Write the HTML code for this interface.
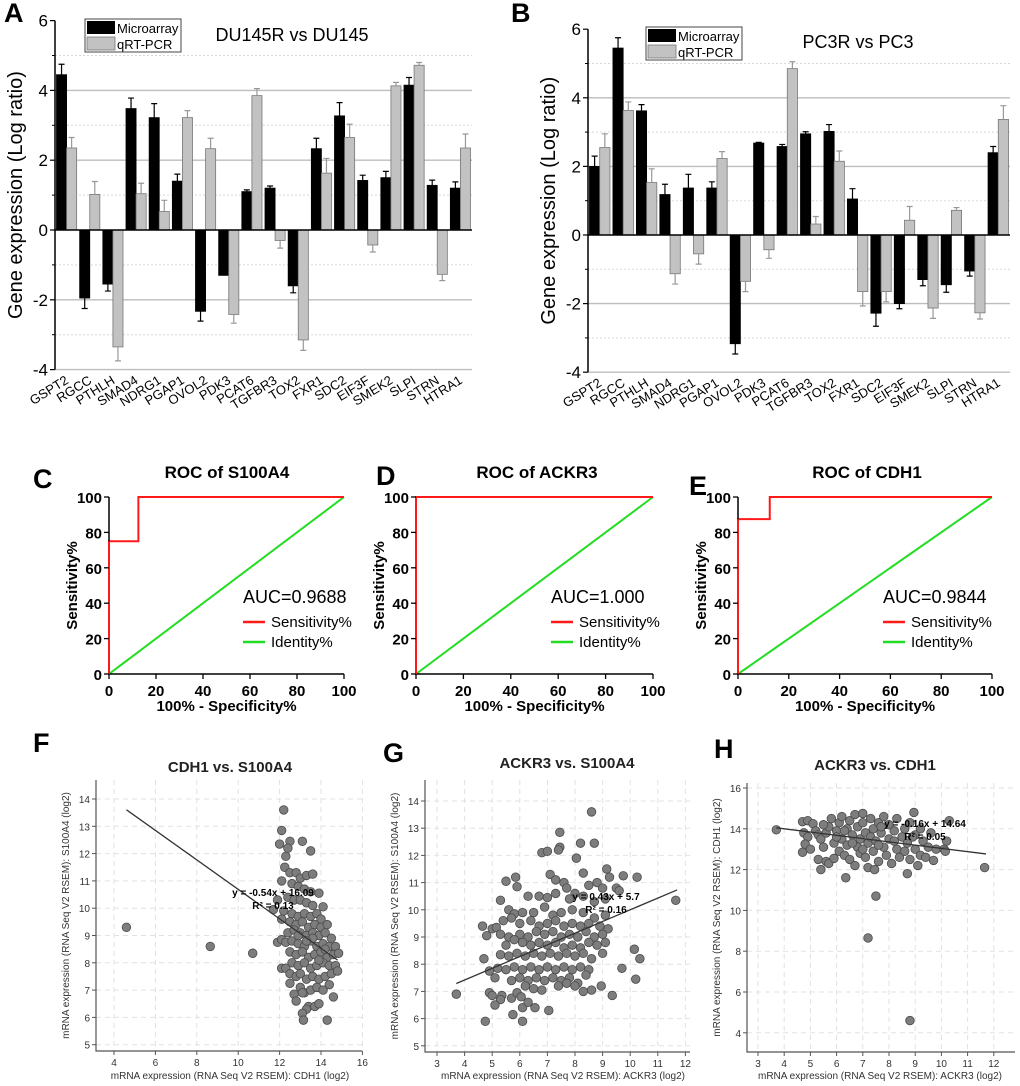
<!DOCTYPE html>
<html><head><meta charset="utf-8"><style>
html,body{margin:0;padding:0;background:#fff;}
svg{display:block;font-family:"Liberation Sans",Arial,sans-serif;}
</style></head><body>
<svg id="fig" width="1020" height="1086" viewBox="0 0 1020 1086"></svg>
<script>
const genes=["GSPT2","RGCC","PTHLH","SMAD4","NDRG1","PGAP1","OVOL2","PDK3","PCAT6","TGFBR3","TOX2","FXR1","SDC2","EIF3F","SMEK2","SLPI","STRN","HTRA1"];
const aMicro=[4.45,-1.95,-1.55,3.48,3.22,1.4,-2.33,-1.3,1.1,1.2,-1.6,2.33,3.27,1.42,1.5,4.15,1.28,1.2];
const aMicroErr=[0.3,0.3,0.2,0.3,0.4,0.2,0.28,0,0.05,0.06,0.2,0.3,0.38,0.15,0.18,0.22,0.15,0.18];
const aQpcr=[2.35,1.02,-3.35,1.04,0.53,3.22,2.33,-2.42,3.85,-0.3,-3.15,1.63,2.65,-0.43,4.13,4.72,-1.27,2.35];
const aQpcrErr=[0.3,0.37,0.4,0.3,0.32,0.2,0.3,0.25,0.2,0.22,0.3,0.42,0.38,0.2,0.1,0.08,0.18,0.4];
const bMicro=[2.0,5.45,3.62,1.18,1.37,1.37,-3.17,2.68,2.58,2.95,3.02,1.05,-2.28,-2.0,-1.3,-1.45,-1.05,2.4];
const bMicroErr=[0.3,0.3,0.18,0.3,0.4,0.18,0.3,0.02,0.06,0.06,0.2,0.3,0.38,0.15,0.18,0.22,0.15,0.18];
const bQpcr=[2.55,3.63,1.53,-1.13,-0.55,2.23,-1.35,-0.43,4.85,0.32,2.15,-1.65,-1.65,0.43,-2.13,0.72,-2.27,3.37];
const bQpcrErr=[0.4,0.25,0.4,0.3,0.3,0.2,0.3,0.25,0.2,0.22,0.3,0.42,0.3,0.4,0.3,0.08,0.18,0.4];
const barTicks=[-4,-2,0,2,4,6];
const rocTicks=[0,20,40,60,80,100];
const rocCX=[0,0,12.5,12.5,100], rocCY=[0,75,75,100,100];
const rocDX=[0,0,100], rocDY=[0,100,100];
const rocEX=[0,0,12.5,12.5,100], rocEY=[0,87.5,87.5,100,100];
const fX=[12.2,12.1,12.0,12.5,12.4,13.1,13.5,12.3,12.25,12.5,12.8,13.0,13.3,13.6,12.1,12.6,12.9,13.2,13.5,13.9,11.9,12.4,12.7,13.0,13.3,13.6,14.1,11.7,12.2,12.6,12.9,13.2,13.5,13.8,14.0,12.1,12.5,12.8,13.1,13.4,13.7,14.0,14.3,12.4,12.7,13.0,13.3,13.6,13.9,14.2,14.5,11.9,12.1,12.3,12.6,12.9,13.2,13.5,13.8,14.1,14.4,14.7,12.5,12.8,13.1,13.4,13.7,14.0,14.3,14.6,14.85,12.6,12.9,13.2,13.5,13.8,14.1,14.4,14.7,12.1,12.3,12.5,12.8,13.0,13.3,13.6,13.9,14.2,14.5,14.8,12.5,12.7,13.0,13.2,13.5,13.8,14.1,14.4,14.6,12.8,13.1,13.4,13.7,13.9,13.3,13.1,13.15,14.3,13.6,13.9,14.2,13.3,12.9,4.6,8.65,10.7];
const fY=[13.6,12.85,12.35,12.45,12.2,12.45,12.1,11.9,11.5,11.3,11.3,11.1,11.2,11.25,11.0,10.9,10.8,10.7,10.6,10.55,10.3,10.4,10.3,10.3,10.2,10.1,10.05,9.95,9.9,9.8,9.7,9.8,9.7,9.8,9.6,9.6,9.5,9.4,9.5,9.3,9.4,9.3,9.4,9.1,9.2,9.1,9.0,9.1,9.0,9.1,8.9,8.75,8.85,8.75,8.8,8.7,8.6,8.8,8.6,8.7,8.6,8.6,8.4,8.3,8.4,8.2,8.3,8.4,8.2,8.3,8.35,8.0,7.9,8.0,7.8,7.9,8.0,7.9,7.9,7.8,7.8,7.6,7.5,7.6,7.4,7.5,7.4,7.5,7.6,7.7,7.25,6.85,7.1,6.9,7.0,7.1,7.0,7.2,6.75,6.6,6.9,6.4,6.4,6.5,6.3,6.15,5.9,5.9,8.9,8.1,8.5,8.8,9.0,9.3,8.6,8.35];
const gX=[8.6,7.45,7.45,7.4,6.8,7.0,8.2,8.7,8.05,5.85,5.5,5.9,7.1,7.3,8.3,9.15,9.25,9.75,10.25,7.6,7.7,8.0,8.5,8.8,9.0,9.5,9.6,5.3,6.3,6.7,7.0,7.3,7.8,8.3,8.7,9.1,11.65,5.6,5.8,6.1,6.5,6.9,7.2,7.5,7.9,8.3,8.7,9.1,5.4,5.7,6.0,6.4,6.7,7.0,7.3,7.6,7.9,8.2,8.5,8.9,9.2,4.65,5.0,5.15,4.8,5.3,5.6,6.0,6.3,6.6,6.9,7.2,7.5,7.8,8.1,8.4,8.7,9.0,5.5,5.8,6.1,6.4,6.7,7.0,7.3,7.6,7.9,8.2,8.5,8.8,9.1,4.7,5.3,5.6,5.9,6.2,6.5,6.8,7.1,7.4,7.7,8.0,8.3,8.6,9.0,10.15,10.35,4.9,5.2,5.5,5.8,6.1,6.4,6.7,7.0,7.3,7.6,7.9,8.2,8.5,9.7,5.1,5.7,6.0,6.3,6.6,6.9,7.2,7.5,7.8,8.1,8.4,10.2,6.2,6.5,6.8,7.4,7.7,8.0,8.3,8.6,8.95,3.7,4.9,5.0,5.35,5.3,5.7,5.9,6.05,6.1,6.55,6.3,5.1,7.05,9.35,5.75,4.75,6.1];
const gY=[13.6,12.85,12.3,12.2,12.1,12.15,12.45,12.45,11.9,11.2,11.05,10.85,11.3,11.1,11.35,11.5,11.2,11.25,11.2,11.0,10.8,10.6,10.9,11.0,10.8,10.8,10.7,10.35,10.5,10.5,10.45,10.6,10.4,10.5,10.3,10.4,10.35,10.0,9.85,9.9,9.9,10.1,9.8,9.9,10.0,9.9,9.7,9.8,9.6,9.7,9.5,9.6,9.4,9.5,9.6,9.4,9.5,9.4,9.5,9.4,9.3,9.4,9.3,9.35,9.05,9.1,9.0,9.1,9.0,9.2,9.1,9.2,9.0,9.1,9.0,9.2,9.0,9.1,8.7,8.9,8.8,8.7,8.8,8.7,8.8,8.6,8.7,8.6,8.8,8.7,8.8,8.2,8.35,8.3,8.4,8.3,8.4,8.3,8.4,8.3,8.4,8.3,8.4,8.2,8.4,8.55,8.2,7.75,7.85,7.8,7.9,7.8,7.9,7.8,7.9,7.8,7.9,7.8,7.9,7.8,7.85,7.5,7.4,7.5,7.4,7.5,7.4,7.5,7.4,7.5,7.3,7.6,7.45,7.2,7.1,7.05,7.2,7.3,7.2,7.0,7.05,7.2,6.9,6.95,6.85,6.85,6.7,6.75,6.95,6.8,6.4,6.4,6.6,6.5,6.3,6.85,6.15,5.9,5.9];
const hX=[3.7,4.7,4.9,5.1,4.75,4.9,4.7,4.8,5.0,5.2,5.3,5.4,5.3,5.4,5.6,5.5,5.6,5.7,5.8,5.7,5.9,5.9,6.0,6.1,6.1,6.2,6.2,6.3,6.35,6.4,6.4,6.5,6.5,6.6,6.7,6.7,6.8,6.8,6.9,6.9,7.0,7.0,7.1,7.1,7.2,7.2,7.3,7.3,7.4,7.4,7.45,7.5,7.2,7.5,7.6,7.6,7.7,7.8,7.8,7.9,8.0,8.0,8.1,8.2,8.3,8.3,8.4,8.5,8.6,8.6,8.7,8.7,8.8,8.8,8.8,8.95,9.0,9.0,9.1,9.2,9.2,9.3,9.4,9.5,9.6,9.7,9.8,10.1,10.2,10.3,10.15,11.65,6.0,6.6,7.0,7.6,8.2,8.9,5.5,6.3,7.7];
const hY=[13.95,14.35,14.4,14.25,13.8,13.6,12.85,13.25,13.0,13.9,13.7,13.5,12.5,12.0,12.4,13.1,13.8,14.1,14.5,12.3,13.3,12.55,13.9,14.3,12.9,13.5,14.6,12.7,11.6,14.0,13.2,12.5,14.4,13.7,14.7,12.2,13.1,14.1,13.5,12.8,14.75,14.3,13.8,12.6,13.3,12.1,14.5,13.6,12.9,14.0,12.0,10.7,8.65,13.4,14.3,12.4,13.8,13.1,14.6,12.7,13.5,14.2,12.3,13.9,13.0,14.5,12.6,13.6,14.0,12.9,11.8,13.3,14.3,12.5,4.6,14.8,13.7,13.0,12.2,14.0,12.7,13.4,12.6,13.1,13.8,12.45,13.0,13.0,13.4,14.4,12.9,12.1,13.6,13.3,13.0,13.2,13.4,13.6,14.2,13.9,14.1];

const NS="http://www.w3.org/2000/svg";
const svg=document.getElementById('fig');
function mk(tag,attrs,parent,txt){const e=document.createElementNS(NS,tag);for(const k in attrs)e.setAttribute(k,attrs[k]);if(txt!==undefined)e.textContent=txt;(parent||svg).appendChild(e);return e;}
function grp(name){const g=document.createElementNS(NS,'g');


svg.appendChild(g);return g;}
function label(g,x,y,t,size,weight,anchor,name,extra){const e=mk('text',Object.assign({x:x,y:y,'font-size':size,'font-weight':weight||'normal','text-anchor':anchor||'start',fill:'#000'},extra||{}),g,t);


return e;}

function barChart(cfg){
  const g=grp(cfg.name);
  const y=v=>cfg.y0-v*cfg.k;
  const gw=(cfg.right-cfg.left)/genes.length;
  for(let v=-4;v<=6;v++){
    if(v===0||v===6)continue;
    const ln=mk('line',{x1:cfg.left,x2:cfg.right,y1:y(v),y2:y(v),stroke:v%2?'#d8d8d8':'#bdbdbd','stroke-width':v%2?1:1.4,'stroke-dasharray':v%2?'2,2':''},g);
    
    
  }
  for(let i=0;i<genes.length;i++){
    const x0=cfg.left+i*gw+1.5, bw=(gw-3)/2;
    const sets=[[cfg.micro[i],cfg.microErr[i],'#000','#000','microarray'],[cfg.qpcr[i],cfg.qpcrErr[i],'#c2c2c2','#777','qrtpcr']];
    sets.forEach((s,j)=>{
      const v=s[0],e=s[1],bx=x0+j*bw;
      const r=mk('rect',{x:bx,y:Math.min(y(0),y(v)),width:bw,height:Math.abs(y(v)-y(0)),fill:s[2],stroke:s[3],'stroke-width':0.8},g);
      
      
      if(e>0){const ye=y(v+(v>=0?e:-e)),cx=bx+bw/2,col=j?'#999':'#000';
        const el=mk('path',{d:`M${cx},${y(v)}V${ye}M${cx-3},${ye}H${cx+3}`,stroke:col,'stroke-width':1.2,fill:'none'},g);
        
        }
    });
    label(g,0,0,genes[i],13,'normal','end','category-label',{transform:`translate(${cfg.left+i*gw+gw*0.62},${cfg.y0+4*cfg.k+13}) rotate(-32)`});
  }
  mk('line',{x1:cfg.left,x2:cfg.right,y1:y(0),y2:y(0),stroke:'#000','stroke-width':1.6},g);
  mk('line',{x1:cfg.left,x2:cfg.left,y1:y(6),y2:y(-4),stroke:'#000','stroke-width':1.5},g);
  barTicks.forEach(v=>{mk('line',{x1:cfg.left-5,x2:cfg.left,y1:y(v),y2:y(v),stroke:'#000','stroke-width':1.2},g);
    label(g,cfg.left-7,y(v)+6,String(v),17,'normal','end','y-tick-label');});
  for(let v=-3;v<=5;v+=2)mk('line',{x1:cfg.left-3,x2:cfg.left,y1:y(v),y2:y(v),stroke:'#000','stroke-width':1},g);
  label(g,0,0,'Gene expression (Log ratio)',20,'normal','middle','y-axis-title',{transform:`translate(${cfg.left-33},${(y(6)+y(-4))/2}) rotate(-90)`});
  label(g,cfg.titleX,cfg.titleY,cfg.title,18,'normal','middle','chart-title');
  label(g,cfg.letterX,22,cfg.letter,27,'bold','start','panel-letter');
  const L=cfg.leg;
  mk('rect',{x:L[0],y:L[1],width:96,height:33,fill:'#fff',stroke:'#444','stroke-width':1},g);
  mk('rect',{x:L[0]+2,y:L[1]+2,width:28,height:13,fill:'#000'},g);
  mk('rect',{x:L[0]+2,y:L[1]+18,width:28,height:13,fill:'#c2c2c2',stroke:'#777','stroke-width':0.8},g);
  label(g,L[0]+32,L[1]+14,'Microarray',13,'normal','start','legend-entry');
  label(g,L[0]+32,L[1]+30,'qRT-PCR',13,'normal','start','legend-entry');
}
barChart({name:'panel-a-bar-chart',left:55,right:472,y0:230,k:34.9,micro:aMicro,microErr:aMicroErr,qpcr:aQpcr,qpcrErr:aQpcrErr,title:'DU145R vs DU145',titleX:292,titleY:41,letter:'A',letterX:4,leg:[85,19]});
barChart({name:'panel-b-bar-chart',left:588,right:1010,y0:235,k:34.3,micro:bMicro,microErr:bMicroErr,qpcr:bQpcr,qpcrErr:bQpcrErr,title:'PC3R vs PC3',titleX:858,titleY:48,letter:'B',letterX:511,leg:[646,27]});

function roc(cfg){
  const g=grp(cfg.name);
  const x=v=>cfg.l+v/100*(cfg.r-cfg.l), y=v=>674-v/100*177;
  mk('line',{x1:x(0),y1:y(0),x2:x(100),y2:y(100),stroke:'#22dd22','stroke-width':2},g);
  let d='';cfg.xs.forEach((v,i)=>{d+=(i?'L':'M')+x(v)+','+y(cfg.ys[i]);});
  const p=mk('path',{d:d,stroke:'#ff1a1a','stroke-width':2,fill:'none'},g);
  
  
  mk('path',{d:`M${x(0)},${y(100)}V${y(0)}H${x(100)}`,stroke:'#000','stroke-width':1.5,fill:'none'},g);
  mk('line',{x1:x(0),y1:y(0),x2:x(0),y2:y(cfg.ys[1]),stroke:'#ff1a1a','stroke-width':2},g);
  rocTicks.forEach(v=>{
    mk('line',{x1:x(0)-5,x2:x(0),y1:y(v),y2:y(v),stroke:'#000','stroke-width':1.3},g);
    mk('line',{x1:x(v),x2:x(v),y1:y(0),y2:y(0)+5,stroke:'#000','stroke-width':1.3},g);
    label(g,x(0)-7,y(v)+6,String(v),15,'bold','end','y-tick-label');
    label(g,x(v),y(0)+22,String(v),15,'bold','middle','x-tick-label');
  });
  label(g,(x(0)+x(100))/2,711,'100% - Specificity%',15,'bold','middle','x-axis-title');
  label(g,0,0,'Sensitivity%',15,'bold','middle','y-axis-title',{transform:`translate(${x(0)-32},${y(50)}) rotate(-90)`});
  label(g,cfg.tx,478,cfg.title,17,'bold','middle','chart-title');
  label(g,cfg.lx,cfg.ly,cfg.letter,27,'bold','start','panel-letter');
  label(g,cfg.ax,603,cfg.auc,18,'normal','start','auc-label');
  mk('line',{x1:cfg.ax,x2:cfg.ax+22,y1:622,y2:622,stroke:'#ff1a1a','stroke-width':2.5},g);
  mk('line',{x1:cfg.ax,x2:cfg.ax+22,y1:642,y2:642,stroke:'#22dd22','stroke-width':2.5},g);
  label(g,cfg.ax+28,627,'Sensitivity%',15,'normal','start','legend-entry');
  label(g,cfg.ax+28,647,'Identity%',15,'normal','start','legend-entry');
}
roc({name:'panel-c-roc',l:109,r:344,xs:rocCX,ys:rocCY,title:'ROC of S100A4',tx:227,letter:'C',lx:33,ly:488,auc:'AUC=0.9688',ax:243});
roc({name:'panel-d-roc',l:416,r:653,xs:rocDX,ys:rocDY,title:'ROC of ACKR3',tx:537,letter:'D',lx:376,ly:485,auc:'AUC=1.000',ax:551});
roc({name:'panel-e-roc',l:738,r:992,xs:rocEX,ys:rocEY,title:'ROC of CDH1',tx:867,letter:'E',lx:689,ly:495,auc:'AUC=0.9844',ax:883});

function scatter(cfg){
  const g=grp(cfg.name);
  const x=v=>cfg.x0+(v-cfg.xv0)*cfg.kx, y=v=>cfg.y0-(v-cfg.yv0)*cfg.ky;
  cfg.xt.forEach(v=>{mk('line',{x1:x(v),x2:x(v),y1:cfg.top,y2:cfg.bottom,stroke:'#e2e2e2','stroke-dasharray':'5,4'},g);});
  cfg.yt.forEach(v=>{mk('line',{x1:cfg.left,x2:cfg.right,y1:y(v),y2:y(v),stroke:'#e2e2e2','stroke-dasharray':'5,4'},g);});
  for(let i=0;i<cfg.xs.length;i++){
    const c=mk('circle',{cx:x(cfg.xs[i]),cy:y(cfg.ys[i]),r:4.3,fill:'#7d7d7d',stroke:'#4a4a4a','stroke-width':0.8},g);
    
    
  }
  const t=mk('line',{x1:x(cfg.fx[0]),y1:y(cfg.m*cfg.fx[0]+cfg.b),x2:x(cfg.fx[1]),y2:y(cfg.m*cfg.fx[1]+cfg.b),stroke:'#333','stroke-width':1.3},g);
  
  mk('path',{d:`M${cfg.left},${cfg.top}V${cfg.bottom}H${cfg.right}`,stroke:'#555','stroke-width':1.2,fill:'none'},g);
  cfg.xt.forEach(v=>{mk('line',{x1:x(v),x2:x(v),y1:cfg.bottom,y2:cfg.bottom+4,stroke:'#555'},g);label(g,x(v),cfg.bottom+15,String(v),10,'normal','middle','x-tick-label',{fill:'#333'});});
  cfg.yt.forEach(v=>{mk('line',{x1:cfg.left-4,x2:cfg.left,y1:y(v),y2:y(v),stroke:'#555'},g);label(g,cfg.left-6,y(v)+4,String(v),10,'normal','end','y-tick-label',{fill:'#333'});});
  label(g,cfg.xtx,1079,cfg.xtitle,10,'normal','middle','x-axis-title',{fill:'#333'});
  label(g,0,0,cfg.ytitle,10,'normal','middle','y-axis-title',{fill:'#333',transform:`translate(${cfg.left-27},${(cfg.top+cfg.bottom)/2}) rotate(-90)`});
  label(g,cfg.tx,cfg.ty,cfg.title,15,'bold','middle','chart-title',{fill:'#222'});
  label(g,cfg.lx,cfg.ly,cfg.letter,27,'bold','start','panel-letter');
  label(g,cfg.ex,cfg.ey,cfg.eq,10,'bold','middle','equation-label');
  label(g,cfg.ex,cfg.ey+13,cfg.r2,10,'bold','middle','r-squared-label');
}
scatter({name:'panel-f-scatter',left:96,right:362,top:780,bottom:1051,x0:114,xv0:4,kx:20.7,y0:799,yv0:14,ky:27.3,xt:[4,6,8,10,12,14,16],yt:[5,6,7,8,9,10,11,12,13,14],xs:fX,ys:fY,fx:[4.6,14.8],m:-0.54,b:16.09,xtitle:'mRNA expression (RNA Seq V2 RSEM): CDH1 (log2)',xtx:230,ytitle:'mRNA expression (RNA Seq V2 RSEM): S100A4 (log2)',title:'CDH1 vs. S100A4',tx:230,ty:772,letter:'F',lx:33,ly:752,eq:'y = -0.54x + 16.09',r2:'R² = 0.13',ex:273,ey:896});
scatter({name:'panel-g-scatter',left:425,right:690,top:780,bottom:1052,x0:437,xv0:3,kx:27.6,y0:801,yv0:14,ky:27.2,xt:[3,4,5,6,7,8,9,10,11,12],yt:[5,6,7,8,9,10,11,12,13,14],xs:gX,ys:gY,fx:[3.7,11.7],m:0.43,b:5.7,xtitle:'mRNA expression (RNA Seq V2 RSEM): ACKR3 (log2)',xtx:563,ytitle:'mRNA expression (RNA Seq V2 RSEM): S100A4 (log2)',title:'ACKR3 vs. S100A4',tx:567,ty:768,letter:'G',lx:383,ly:762,eq:'y = 0.43x + 5.7',r2:'R² = 0.16',ex:606,ey:900});
scatter({name:'panel-h-scatter',left:747,right:1015,top:783,bottom:1052,x0:758,xv0:3,kx:26.2,y0:788,yv0:16,ky:20.4,xt:[3,4,5,6,7,8,9,10,11,12],yt:[4,6,8,10,12,14,16],xs:hX,ys:hY,fx:[3.7,11.7],m:-0.16,b:14.64,xtitle:'mRNA expression (RNA Seq V2 RSEM): ACKR3 (log2)',xtx:880,ytitle:'mRNA expression (RNA Seq V2 RSEM): CDH1 (log2)',title:'ACKR3 vs. CDH1',tx:875,ty:770,letter:'H',lx:714,ly:758,eq:'y = -0.16x + 14.64',r2:'R² = 0.05',ex:925,ey:827});
</script>
</body></html>
